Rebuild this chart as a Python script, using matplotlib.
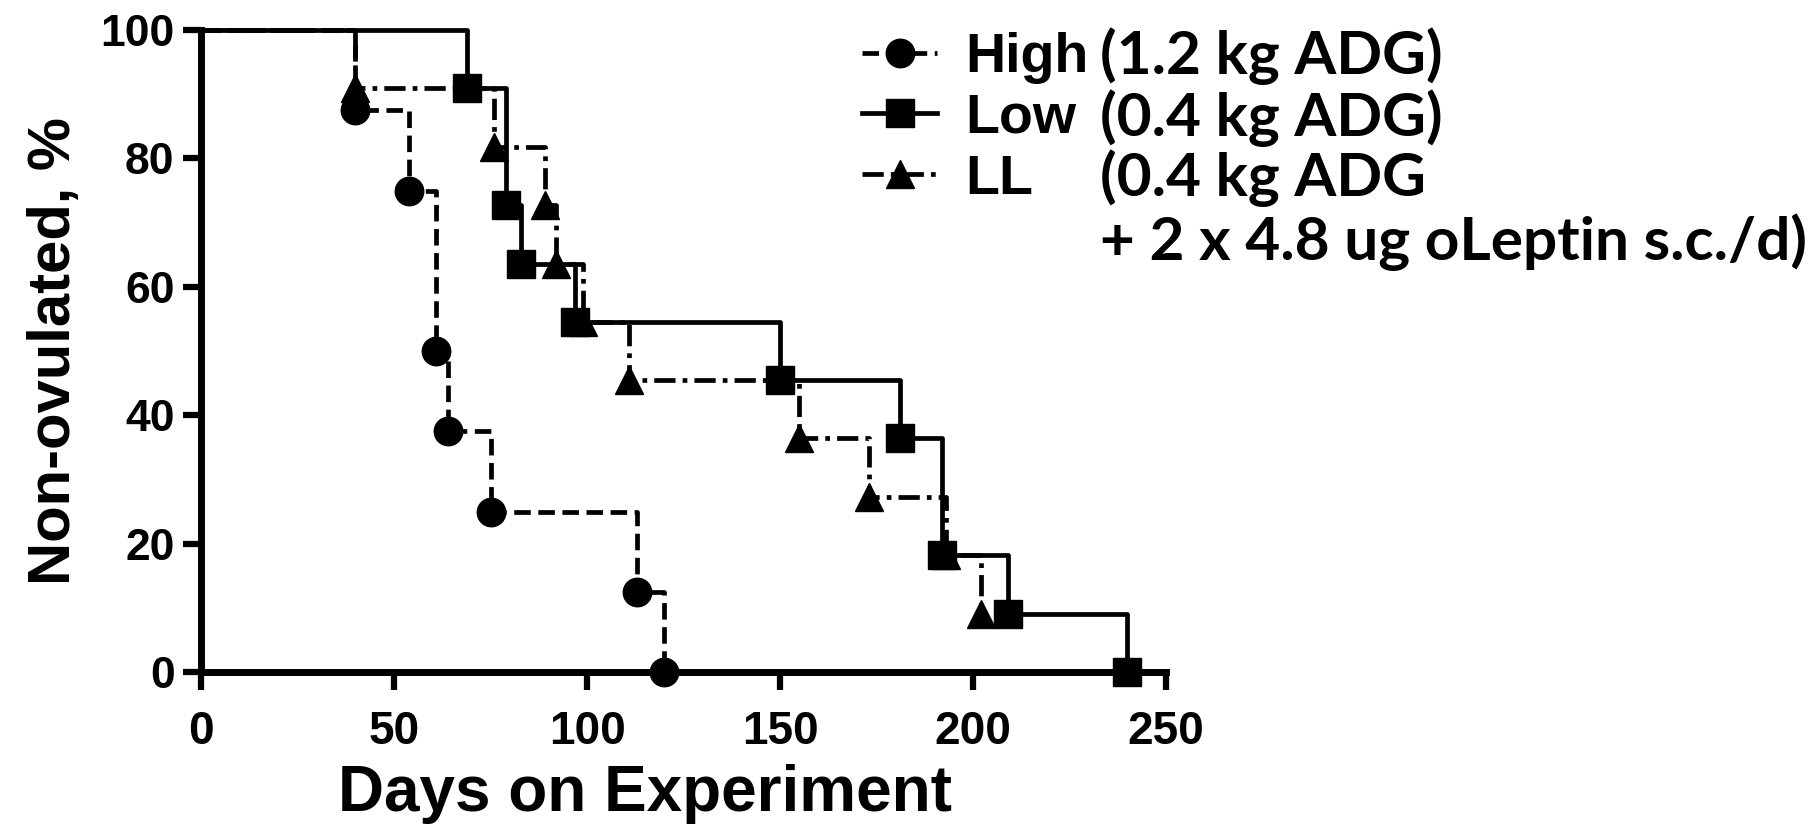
import matplotlib.pyplot as plt
from matplotlib.lines import Line2D
from matplotlib import font_manager

# Kaplan-Meier steps (day of event, % still non-ovulated)
high_days = [40, 54, 61, 64, 75, 113, 120]
high_pct = [87.5, 75, 50, 37.5, 25, 12.5, 0]

low_days = [69, 79, 83, 97, 150, 181, 192, 209, 240]
low_pct = [90.9, 72.7, 63.6, 54.5, 45.5, 36.4, 18.2, 9.1, 0]

ll_days = [40, 76, 89, 92, 99, 111, 155, 173, 193, 202]
ll_pct = [90.9, 81.8, 72.7, 63.6, 54.5, 45.5, 36.4, 27.3, 18.2, 9.1]

groups = ['High', 'Low', 'LL']
notes = ['(1.2 kg ADG)', '(0.4 kg ADG)', '(0.4 kg ADG', '+ 2 x 4.8 ug oLeptin s.c./d)']

x_ticks = [0, 50, 100, 150, 200, 250]
y_ticks = [0, 20, 40, 60, 80, 100]

ARIAL = ['Liberation Sans', 'DejaVu Sans']
plt.rcParams['font.family'] = ARIAL

# x tick labels look condensed in the original
installed = {f.name for f in font_manager.fontManager.ttflist}
if 'Liberation Sans Narrow' in installed:
    xtick_font, xtick_size = ['Liberation Sans Narrow', 'Liberation Sans'], 38
else:
    xtick_font, xtick_size = ARIAL, 33

fig = plt.figure(figsize=(18.19, 8.34), dpi=100)
ax = fig.add_axes([201 / 1819, 1 - 672 / 834, 965 / 1819, 642 / 834])

lw = 3.4
ms = 20.5
dash_high = (0, (3.5, 1.6))
dash_ll = (0, (4.5, 1.5, 1.0, 1.5))

ax.plot([0] + high_days, [100] + high_pct, drawstyle='steps-post', color='k',
        lw=lw, ls=dash_high, clip_on=False, zorder=3)
ax.plot(high_days, high_pct, 'o', color='k', ms=ms, clip_on=False, zorder=4)

ax.plot([0] + ll_days, [100] + ll_pct, drawstyle='steps-post', color='k',
        lw=lw, ls=dash_ll, clip_on=False, zorder=3)
ax.plot(ll_days, ll_pct, '^', color='k', ms=ms, clip_on=False, zorder=4)

ax.plot([0] + low_days, [100] + low_pct, drawstyle='steps-post', color='k',
        lw=lw, ls='-', clip_on=False, zorder=3)
ax.plot(low_days, low_pct, 's', color='k', ms=ms - 1, clip_on=False, zorder=4)

ax.set_xlim(0, 250)
ax.set_ylim(0, 100)
ax.set_xticks(x_ticks)
ax.set_yticks(y_ticks)
for s in ['top', 'right']:
    ax.spines[s].set_visible(False)
for s in ['left', 'bottom']:
    ax.spines[s].set_linewidth(5)
ax.tick_params(direction='out', length=13, width=4.5, color='k')
ax.tick_params(axis='y', pad=6, labelsize=32)
ax.tick_params(axis='x', pad=14, labelsize=xtick_size)
for t in ax.get_yticklabels():
    t.set_fontweight('bold')
for t in ax.get_xticklabels():
    t.set_fontweight('bold')
    t.set_family(xtick_font)

ax.set_xlabel('Days on Experiment', fontsize=46, fontweight='bold', va='center')
ax.xaxis.set_label_coords(0.46, -0.19)
ax.set_ylabel('Non-ovulated, %', fontsize=43, fontweight='bold', va='center')
ax.yaxis.set_label_coords(-0.152, 0.5)

handles = [
    Line2D([], [], color='k', lw=lw, ls=dash_high, marker='o', ms=ms),
    Line2D([], [], color='k', lw=lw, ls='-', marker='s', ms=ms - 1),
    Line2D([], [], color='k', lw=lw, ls=dash_ll, marker='^', ms=ms),
]
leg = ax.legend(handles, groups, loc='upper left', bbox_to_anchor=(862 / 1819, 1 - 32 / 834),
                bbox_transform=fig.transFigure, frameon=False, numpoints=1,
                handlelength=1.35, handletextpad=0.5, labelspacing=0.16,
                borderpad=0, borderaxespad=0, prop={'family': ARIAL, 'weight': 'bold', 'size': 40})

note_y = [56, 118, 178, 242]
for txt, yy in zip(notes, note_y):
    fig.text(1100 / 1819, 1 - yy / 834, txt, fontsize=43.5, fontweight='bold',
             family=['Lato', 'DejaVu Sans'], va='center', ha='left')

fig.savefig('out.png', dpi=100, facecolor='white')
